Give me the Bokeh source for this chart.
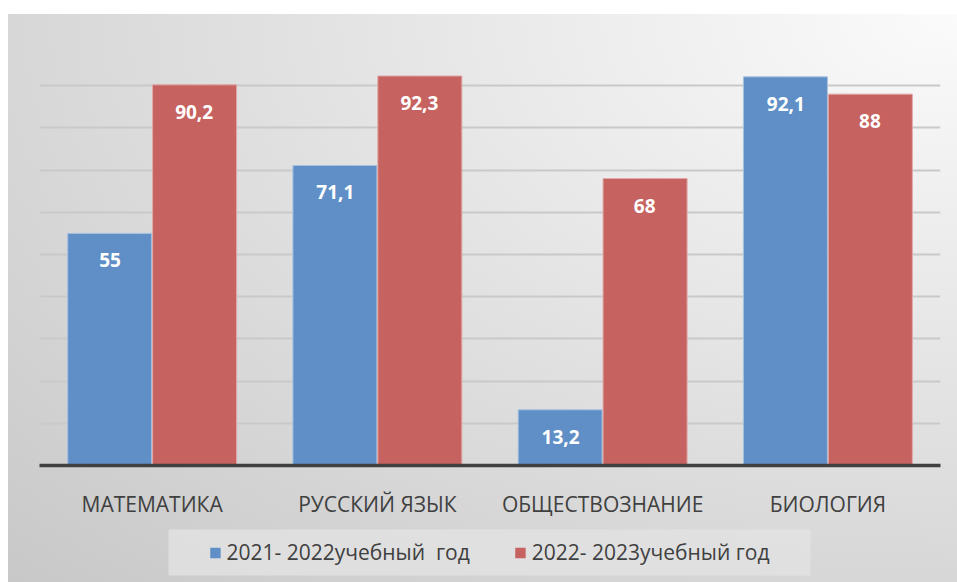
from bokeh.plotting import figure
from bokeh.models import ColumnDataSource, LabelSet, Legend, LegendItem, Range1d, FactorRange
from bokeh.transform import dodge
from bokeh.core.properties import value
from bokeh.layouts import column
from bokeh.embed import file_html
from bokeh.resources import INLINE

categories = ["МАТЕМАТИКА", "РУССКИЙ ЯЗЫК", "ОБЩЕСТВОЗНАНИЕ", "БИОЛОГИЯ"]
series1_name = "2021- 2022учебный  год"
series2_name = "2022- 2023учебный год"
series1 = [55, 71.1, 13.2, 92.1]
series2 = [90.2, 92.3, 68, 88]

def fmt(v):
    s = ("%g" % v)
    return s.replace(".", ",")

src = ColumnDataSource(dict(
    cat=categories,
    s1=series1,
    s2=series2,
    l1=[fmt(v) for v in series1],
    l2=[fmt(v) for v in series2],
))

BLUE = "#5f8fc6"
RED = "#c6625f"
BLUE_EDGE = "#a9c2e0"
RED_EDGE = "#e0a9a8"
FONT = "Open Sans"

# ---- main chart ----
p = figure(width=949, height=506, x_range=FactorRange(*categories, range_padding=0),
           y_range=Range1d(0, 100), output_backend="svg", toolbar_location=None,
           min_border_left=31, min_border_right=17, min_border_top=29, min_border_bottom=53)
p.frame_align = False
p.background_fill_color = None
p.border_fill_color = None
p.outline_line_color = None

bw = 0.373
p.vbar(x=dodge("cat", -bw / 2 - 0.002, range=p.x_range), top="s1", width=bw, source=src,
       fill_color=BLUE, line_color=BLUE_EDGE, line_width=1)
p.vbar(x=dodge("cat", bw / 2 + 0.002, range=p.x_range), top="s2", width=bw, source=src,
       fill_color=RED, line_color=RED_EDGE, line_width=1)

lab_style = dict(text_color="white", text_font_style="bold", text_font_size="19px",
                 text_align="center", text_baseline="middle", y_offset=-27, text_font=value(FONT))
p.add_layout(LabelSet(x=dodge("cat", -bw / 2, range=p.x_range), y="s1", text="l1", source=src, **lab_style))
p.add_layout(LabelSet(x=dodge("cat", bw / 2, range=p.x_range), y="s2", text="l2", source=src, **lab_style))

p.yaxis.visible = False
p.ygrid.grid_line_color = "#c9c9c9"
p.ygrid.grid_line_width = 2
p.ygrid.ticker = list(range(10, 101, 10))
p.xgrid.grid_line_color = None

p.xaxis.axis_line_color = "#404040"
p.xaxis.axis_line_width = 3.5
p.xaxis.major_tick_line_color = None
p.xaxis.minor_tick_line_color = None
p.xaxis.major_label_text_font = FONT
p.xaxis.major_label_text_font_size = "21px"
p.xaxis.major_label_text_color = "#404040"
p.xaxis.major_label_standoff = 18

# ---- legend strip (legend keys reuse the series source; zero-width bars out of range) ----
q = figure(width=949, height=62, x_range=p.x_range, y_range=Range1d(1000, 1001),
           output_backend="svg", toolbar_location=None,
           min_border_left=160, min_border_right=147, min_border_top=9, min_border_bottom=7)
q.frame_align = False
q.axis.visible = False
q.grid.visible = False
q.outline_line_color = None
q.border_fill_color = None
q.background_fill_color = "#e2e2e2"
q.background_fill_alpha = 0.8
k1 = q.vbar(x="cat", top="s1", width=0, source=src, fill_color=BLUE, line_color=None)
k2 = q.vbar(x="cat", top="s2", width=0, source=src, fill_color=RED, line_color=None)

legend = Legend(items=[LegendItem(label=series1_name, renderers=[k1], index=0),
                       LegendItem(label=series2_name, renderers=[k2], index=0)],
                orientation="horizontal", location="center",
                label_text_font=FONT, label_text_font_size="21px", label_text_color="#404040",
                glyph_width=13, glyph_height=13, label_standoff=5, spacing=44,
                padding=0, margin=0,
                background_fill_alpha=0, border_line_color=None)
q.add_layout(legend, "center")

layout = column(p, q, spacing=0)
layout.margin = (14, 0, 0, 8)
layout.styles = {"background": "radial-gradient(ellipse at 100% 0%, #fbfbfb 0%, #e4e4e4 45%, #c8c8c8 100%)"}

open("out.html", "w").write(file_html(layout, INLINE))
